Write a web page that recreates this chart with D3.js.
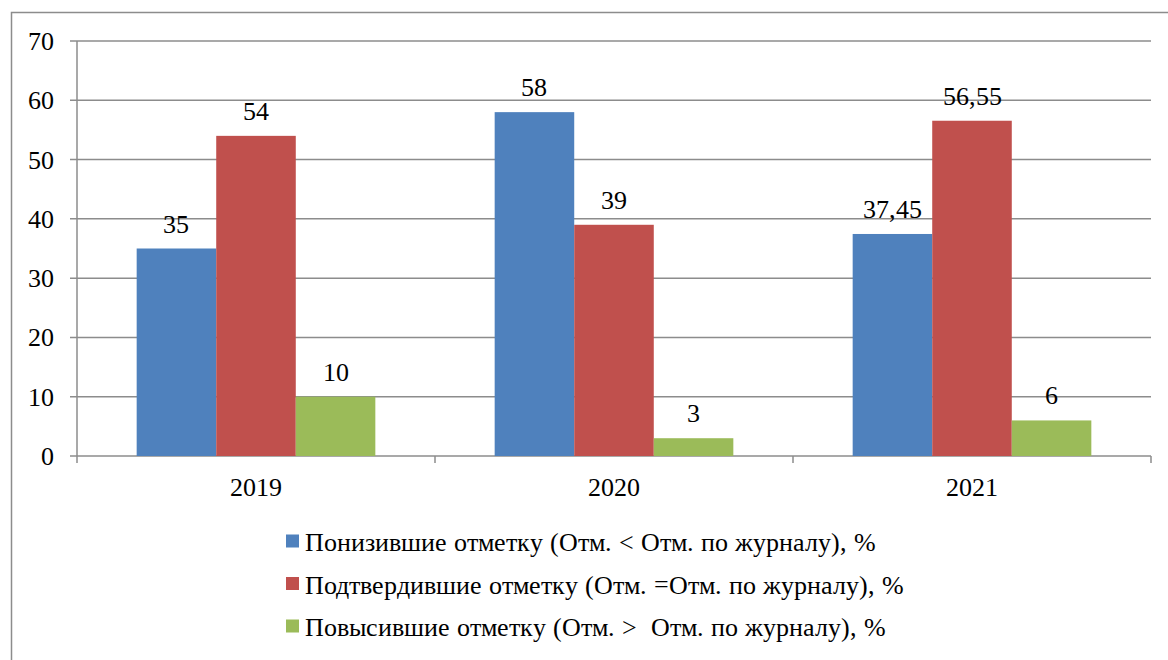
<!DOCTYPE html>
<html>
<head>
<meta charset="utf-8">
<script src="https://cdn.jsdelivr.net/npm/d3@7"></script>
<style>
  @font-face {
    font-family: "ChartSerif";
    src: local("Liberation Serif"), local("LiberationSerif"), local("LiberationSerif-Regular"), local("Tinos"), local("Times New Roman");
  }
  svg text { font-family: "ChartSerif", "Liberation Serif", Tinos, "Times New Roman", serif; }
</style>
</head>
<body style="margin:0">
<svg width="1168" height="660"></svg>
<script>
// data
var years = ["2019", "2020", "2021"];
var seriesNames = [
  "Понизившие отметку (Отм. < Отм. по журналу), %",
  "Подтвердившие отметку (Отм. =Отм. по журналу), %",
  "Повысившие отметку (Отм. >  Отм. по журналу), %"
];
var lowered   = [35, 58, 37.45];
var confirmed = [54, 39, 56.55];
var raised    = [10, 3, 6];
var yTicks = [0, 10, 20, 30, 40, 50, 60, 70];
var colors = ["#4F81BD", "#C0504D", "#9BBB59"];

var series = [lowered, confirmed, raised];

var svg = d3.select("svg");
var plotL = 77, plotR = 1151, plotT = 41, plotB = 456;

// outer frame
svg.append("rect")
  .attr("x", 11.5).attr("y", 12.5)
  .attr("width", 1170).attr("height", 700)
  .attr("fill", "none").attr("stroke", "#8c8c8c").attr("stroke-width", 1.5);

var x = d3.scaleBand().domain(years).range([plotL, plotR]);
var inner = d3.scaleBand().domain(d3.range(3))
  .range([0, x.bandwidth()]).paddingInner(0).paddingOuter(0.75);
var y = d3.scaleLinear().domain([0, 70]).range([plotB, plotT]);

// grid lines
svg.append("g").selectAll("line")
  .data(yTicks)
  .enter()
  .append("line")
  .attr("x1", plotL - 7).attr("x2", plotR)
  .attr("y1", function(d) { return y(d); })
  .attr("y2", function(d) { return y(d); })
  .attr("stroke", "#8c8c8c").attr("stroke-width", 1.5);

// y axis line
svg.append("line")
  .attr("x1", plotL).attr("x2", plotL)
  .attr("y1", plotT).attr("y2", plotB + 7)
  .attr("stroke", "#8c8c8c").attr("stroke-width", 1.5);

// category ticks
svg.append("g").selectAll("line")
  .data(years)
  .enter()
  .append("line")
  .attr("x1", function(d) { return x(d) + x.bandwidth(); })
  .attr("x2", function(d) { return x(d) + x.bandwidth(); })
  .attr("y1", plotB).attr("y2", plotB + 7)
  .attr("stroke", "#8c8c8c").attr("stroke-width", 1.5);

// y tick labels
svg.append("g").selectAll("text")
  .data(yTicks)
  .enter()
  .append("text")
  .attr("font-size", 26)
  .attr("x", 54)
  .attr("y", function(d) { return y(d) + 9; })
  .attr("text-anchor", "end")
  .text(function(d) { return d; });

// x labels
svg.append("g").selectAll("text")
  .data(years)
  .enter()
  .append("text")
  .attr("font-size", 26)
  .attr("x", function(d) { return x(d) + x.bandwidth() / 2; })
  .attr("y", 496)
  .attr("text-anchor", "middle")
  .text(function(d) { return d; });

// bars + labels
series.forEach(function(vals, s) {
  var g = svg.append("g");
  g.selectAll("rect")
    .data(vals)
    .enter()
    .append("rect")
    .attr("x", function(d, i) { return x(years[i]) + inner(s); })
    .attr("width", inner.bandwidth())
    .attr("y", function(d) { return y(d); })
    .attr("height", function(d) { return plotB - y(d); })
    .attr("fill", colors[s]);
  g.selectAll("text")
    .data(vals)
    .enter()
    .append("text")
    .attr("font-size", 26)
    .attr("x", function(d, i) { return x(years[i]) + inner(s) + inner.bandwidth() / 2; })
    .attr("y", function(d) { return y(d) - 16; })
    .attr("text-anchor", "middle")
    .text(function(d) { return String(d).replace(".", ","); });
});

// legend
var legend = svg.append("g").selectAll("g")
  .data(seriesNames)
  .enter()
  .append("g")
  .attr("transform", function(d, i) { return "translate(286," + (541 + i * 42.5) + ")"; });
legend.append("rect")
  .attr("x", 0).attr("y", -6.5)
  .attr("width", 13).attr("height", 13)
  .attr("fill", function(d, i) { return colors[i]; });
legend.append("text")
  .attr("font-size", 26)
  .attr("x", 19).attr("y", 10)
  .style("white-space", "pre")
  .text(function(d) { return d; });
</script>
</body>
</html>
